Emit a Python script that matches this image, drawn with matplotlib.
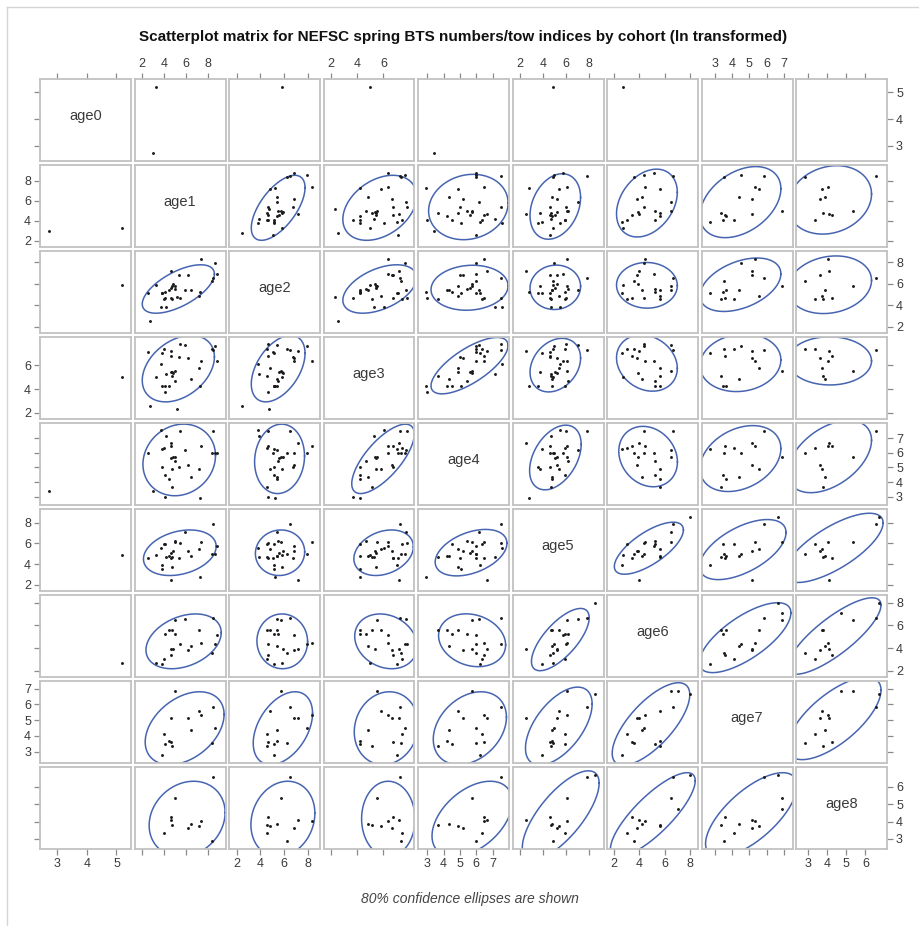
import numpy as np
import matplotlib
matplotlib.use('Agg')
import matplotlib.pyplot as plt
from matplotlib.lines import Line2D

plt.rcParams['font.family'] = ['Liberation Sans', 'DejaVu Sans']

nan = np.nan
labels = ['age0', 'age1', 'age2', 'age3', 'age4', 'age5', 'age6', 'age7', 'age8']

# one entry per cohort (35 cohorts, ln-transformed numbers/tow), NaN = not observed
age0 = [nan] * 33 + [5.20, 2.72]
age1 = [nan, nan, 8.46, 4.99, 4.60, 4.65, 7.34, 6.41, 7.16, 4.75, 4.02, 8.37, 6.19, 3.84, 8.60, 4.05, 4.47,
        5.89, 4.99, 8.82, 5.41, 4.84, 3.72, 5.38, 4.60, 4.17, 4.75, 3.78, 7.28, 2.51, 4.08, 2.72, 5.17,
        3.23, 2.96]
age2 = [nan, nan, 6.48, 5.76, 4.67, 7.18, 8.30, 5.37, 4.81, 4.58, 4.53, 6.26, 6.82, 5.14, 7.88, 5.17, 5.37,
        5.42, 5.51, 6.85, 4.67, 5.93, 3.83, 6.76, 5.59, 3.86, 5.79, 5.14, 5.23, 5.09, 4.67, 2.50, 4.75,
        5.83, nan]
age3 = [nan, nan, 7.25, 5.49, 6.75, 7.18, 6.37, 4.81, 5.79, 5.11, 7.38, 7.33, 6.63, 7.00, 7.63, 4.23, 4.23,
        7.71, 4.66, 6.32, 7.76, 5.36, 6.07, 6.70, 5.42, 5.29, 5.44, 4.23, 4.23, 7.08, 3.72, 2.59, 2.31,
        4.98, nan]
age4 = [nan, nan, 7.51, 5.73, 6.48, 6.63, 6.48, 4.33, 4.88, 3.65, 6.34, 5.96, 5.17, 6.23, 5.96, 4.49, 4.22,
        6.16, 5.41, 5.96, 7.51, 5.72, 7.55, 5.00, 5.61, 7.14, 4.90, 5.06, 2.92, 5.98, 2.97, nan, nan,
        nan, 3.40]
age5 = [8.57, nan, 7.85, 6.10, 4.63, 2.50, 6.10, 4.80, 5.45, 4.70, 5.90, 4.92, 5.21, 3.90, 4.95, 5.96, 4.77,
        7.06, 6.22, 5.77, 6.06, 5.26, 5.52, 4.61, 5.09, 4.71, 3.74, 3.55, 2.78, 4.61, nan, nan, nan,
        4.90, nan]
age6 = [8.01, 7.08, 6.65, 6.49, 3.43, 3.95, 4.43, 4.19, 5.62, 5.63, 3.00, 3.55, 3.83, 2.61, 4.34, 5.21, 5.61,
        6.54, 5.27, 5.18, 4.39, 3.89] + [nan] * 11 + [2.70, nan]
age7 = [6.66, 6.88, 5.82, 6.88, 3.60, 5.13, 5.30, 4.40, 5.57, 3.35, 4.13, 3.52, 5.13, 2.76, 4.50, 3.50,
        3.65] + [nan] * 18
age8 = [6.68, 4.72, 6.54, 5.34, 4.28, 4.09, 4.05, 3.88, 3.76, 3.82, 3.36, 2.86, 3.63] + [nan] * 22

series = [np.array(a, float) for a in (age0, age1, age2, age3, age4, age5, age6, age7, age8)]

# axis settings per variable
lims = [(2.42, 5.49), (1.32, 9.56), (1.37, 9.0), (1.47, 8.35), (2.43, 8.0),
        (1.37, 9.28), (1.42, 8.66), (2.25, 7.47), (2.40, 7.12)]
ticks = [[3, 4, 5], [2, 4, 6, 8], [2, 4, 6, 8], [2, 4, 6], [3, 4, 5, 6, 7],
         [2, 4, 6, 8], [2, 4, 6, 8], [3, 4, 5, 6, 7], [3, 4, 5, 6]]

W, H = 919, 926
fig = plt.figure(figsize=(W / 100, H / 100), dpi=100)
fig.patch.set_facecolor('white')

X0, Y0, PW, PH, DX, DY = 40, 79.3, 91, 82, 94.5, 86
ELL_COLOR = '#4664b0'
EDGE = '#c2c2c2'
TXT = '#3a3a3a'


def prediction_ellipse(x, y, level=0.8, npts=240):
    n = len(x)
    S = np.cov(x, y)
    d2 = n - 2
    F = d2 / 2.0 * ((1 - level) ** (-2.0 / d2) - 1)
    c = 2.0 * (n + 1) * (n - 1) / (n * (n - 2)) * F
    L = np.linalg.cholesky(S)
    t = np.linspace(0, 2 * np.pi, npts)
    u = np.vstack([np.cos(t), np.sin(t)]) * np.sqrt(c)
    p = L @ u
    return x.mean() + p[0], y.mean() + p[1]


nv = len(labels)
for i in range(nv):
    for j in range(nv):
        left = (X0 + j * DX) / W
        bottom = 1 - (Y0 + i * DY + PH) / H
        ax = fig.add_axes([left, bottom, PW / W, PH / H])
        ax.set_xlim(*lims[j])
        ax.set_ylim(*lims[i])
        ax.set_xticks(ticks[j])
        ax.set_yticks(ticks[i])
        for s in ax.spines.values():
            s.set_color(EDGE)
            s.set_linewidth(1.3)
        ax.tick_params(direction='out', length=4.5, width=0.9, color='#8a8a8a',
                       labelsize=9, labelcolor=TXT, pad=2,
                       top=(i == 0), bottom=(i == nv - 1),
                       left=(j == 0), right=(j == nv - 1),
                       labeltop=(i == 0 and j % 2 == 1),
                       labelbottom=(i == nv - 1 and j % 2 == 0),
                       labelleft=(j == 0 and i % 2 == 1),
                       labelright=(j == nv - 1 and i % 2 == 0))
        if i == j:
            ax.text(0.5, 0.55, labels[i], transform=ax.transAxes, ha='center', va='center',
                    fontsize=10.5, color=TXT)
            continue
        xv, yv = series[j], series[i]
        m = ~np.isnan(xv) & ~np.isnan(yv)
        xs, ys = xv[m], yv[m]
        if len(xs) >= 4:
            ex, ey = prediction_ellipse(xs, ys)
            ax.plot(ex, ey, color=ELL_COLOR, lw=1.1, zorder=2)
        ax.plot(xs, ys, 'o', ms=2.1, color='#1a1a1a', mec='none', zorder=3)

fig.text(463.5 / W, 1 - 37 / H,
         'Scatterplot matrix for NEFSC spring BTS numbers/tow indices by cohort (ln transformed)',
         ha='center', va='center', fontsize=11, fontweight='bold', color='#111111')
fig.text(470 / W, 1 - 899 / H, '80% confidence ellipses are shown', ha='center', va='center',
         fontsize=10, style='italic', color='#444444')

# outer light frame
fig.add_artist(Line2D([7 / W, 7 / W], [0, 1 - 7 / H], color='#d4d4d4', lw=1.0))
fig.add_artist(Line2D([7 / W, 1], [1 - 7 / H, 1 - 7 / H], color='#d4d4d4', lw=1.0))

fig.savefig('out.png', dpi=100, facecolor='white')
